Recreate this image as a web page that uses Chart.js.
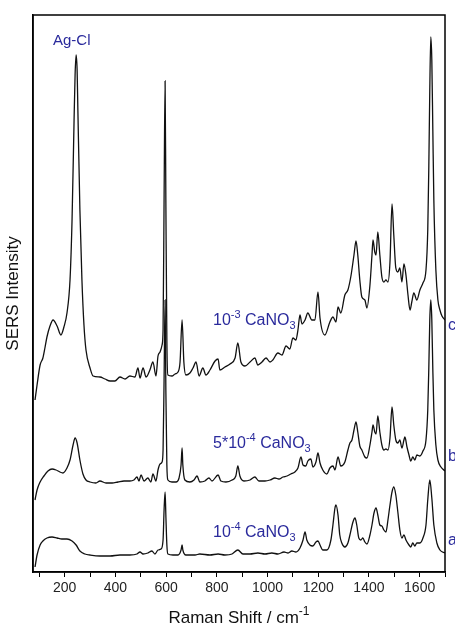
<!DOCTYPE html>
<html lang="en">
<head>
    <meta charset="UTF-8">
    <title>SERS spectra</title>
    <script src="https://cdn.jsdelivr.net/npm/chart.js"></script>
    <style>
        body { margin: 0; background: #fff; }
        canvas { display: block; }
    </style>
</head>
<body>
    <canvas id="chart" width="455" height="628"></canvas>
    <script>
        // Raman shift (cm-1) and intensity (arb. units, already offset) for each trace
        // trace c: 10^-3 CaNO3
        const shiftC = [83, 91, 103, 114, 122, 130, 142, 154, 170, 185, 197, 209, 221, 229, 237, 241, 245, 249, 252, 260, 268, 276, 284, 300, 312,
            339, 359, 379, 398, 418, 438, 457, 477, 489, 497, 509, 521, 536, 548, 560, 568, 576, 584, 588, 592, 596, 599, 603, 607,
            623, 635, 647, 655, 663, 670, 678, 694, 706, 718, 730, 745, 757, 773, 793, 805, 812, 832, 852, 872, 883, 895, 911, 931,
            950, 962, 978, 994, 1010, 1021, 1041, 1057, 1073, 1088, 1100, 1112, 1120, 1128, 1136, 1148, 1159, 1175, 1187, 1199, 1207, 1226,
            1246, 1258, 1270, 1278, 1289, 1305, 1317, 1329, 1341, 1349, 1356, 1364, 1372, 1384, 1392, 1404, 1412, 1416, 1423, 1428, 1435,
            1443, 1451, 1459, 1467, 1475, 1483, 1491, 1498, 1506, 1514, 1522, 1530, 1538, 1546, 1554, 1562, 1569, 1577, 1589, 1601,
            1613, 1625, 1632, 1636, 1640, 1644, 1648, 1652, 1656, 1664, 1672, 1680, 1688, 1700];
        const intC = [172, 187, 207, 214, 224, 235, 246, 252, 246, 237, 245, 259, 292, 352, 452, 497, 517, 502, 462, 362, 292, 247, 222, 204, 196,
            195, 193, 191, 191, 195, 193, 196, 195, 204, 194, 204, 195, 202, 210, 196, 216, 220, 227, 242, 372, 491, 372, 232, 197,
            196, 198, 200, 210, 252, 210, 197, 199, 204, 210, 196, 204, 197, 202, 211, 213, 202, 205, 208, 214, 229, 210, 206, 210,
            214, 207, 210, 214, 210, 212, 219, 217, 226, 223, 234, 232, 242, 257, 248, 252, 259, 252, 252, 280, 254, 237,
            250, 255, 250, 265, 259, 277, 282, 296, 317, 331, 317, 292, 275, 272, 264, 287, 317, 332, 320, 317, 340,
            317, 295, 290, 292, 290, 310, 368, 337, 304, 300, 304, 290, 308, 297, 277, 262, 270, 279, 272, 282,
            289, 302, 342, 402, 482, 535, 512, 442, 372, 302, 272, 262, 256, 252];

        // trace b: 5*10^-4 CaNO3
        const shiftB = [83, 91, 103, 118, 134, 150, 166, 181, 193, 209, 221, 233, 241, 249, 260, 272, 284, 300, 323, 339, 363, 387, 410, 434,
            457, 473, 485, 493, 501, 513, 528, 540, 548, 560, 568, 576, 584, 588, 592, 596, 599, 603, 607, 623, 639, 651, 659, 663,
            666, 674, 694, 710, 722, 733, 753, 769, 781, 805, 816, 836, 860, 875, 883, 891, 907, 931, 950, 966, 990, 1010, 1029,
            1045, 1061, 1077, 1092, 1108, 1120, 1132, 1140, 1151, 1159, 1171, 1179, 1191, 1199, 1207, 1218, 1234, 1246, 1258, 1266,
            1278, 1289, 1305, 1317, 1325, 1333, 1341, 1349, 1356, 1364, 1372, 1384, 1392, 1404, 1412, 1416, 1423, 1428, 1435, 1443,
            1451, 1459, 1467, 1475, 1483, 1491, 1498, 1506, 1514, 1522, 1530, 1538, 1542, 1550, 1558, 1565, 1573, 1581, 1589, 1601,
            1613, 1625, 1632, 1636, 1640, 1644, 1648, 1652, 1656, 1664, 1672, 1684, 1700];
        const intB = [72, 82, 90, 96, 101, 103, 102, 100, 99, 104, 112, 127, 134, 129, 112, 98, 92, 90, 89, 91, 89, 89, 90, 91,
            91, 92, 95, 91, 97, 91, 94, 90, 98, 91, 102, 108, 110, 122, 192, 272, 182, 107, 92, 90, 90, 94, 107, 124,
            107, 92, 90, 92, 96, 90, 91, 94, 91, 97, 91, 90, 92, 96, 106, 96, 91, 92, 95, 91, 91, 92, 94,
            93, 95, 96, 98, 100, 104, 115, 107, 106, 111, 113, 105, 110, 119, 109, 102, 98, 104, 106, 102,
            115, 106, 110, 122, 129, 132, 142, 150, 140, 126, 122, 115, 114, 127, 140, 147, 140, 138, 156, 140,
            127, 122, 123, 122, 134, 165, 147, 132, 129, 132, 124, 132, 135, 125, 117, 111, 115, 112, 117, 116,
            121, 132, 162, 202, 252, 272, 252, 202, 162, 127, 112, 105, 101];

        // trace a: 10^-4 CaNO3
        const shiftA = [83, 91, 103, 114, 130, 150, 170, 189, 209, 229, 245, 260, 280, 300, 339, 379, 418, 457, 485, 497, 509, 528,
            544, 556, 568, 580, 588, 592, 596, 599, 603, 607, 627, 647, 659, 663, 666, 678, 714, 733, 773, 805, 832, 860, 883,
            903, 931, 962, 990, 1017, 1041, 1065, 1081, 1096, 1112, 1128, 1140, 1148, 1155, 1167, 1179, 1191, 1199, 1207, 1218,
            1234, 1250, 1258, 1266, 1270, 1278, 1285, 1293, 1305, 1317, 1325, 1337, 1345, 1352, 1360, 1368, 1376, 1384, 1392,
            1404, 1412, 1420, 1428, 1435, 1443, 1451, 1459, 1467, 1475, 1483, 1491, 1498, 1506, 1514, 1522, 1530, 1538, 1546,
            1558, 1565, 1573, 1581, 1589, 1601, 1613, 1625, 1632, 1640, 1648, 1656, 1668, 1680, 1700];
        const intA = [5, 17, 27, 31, 34, 35, 34, 33, 33, 31, 27, 21, 18, 17, 16, 16, 17, 17, 18, 20, 18, 19,
            21, 18, 22, 23, 32, 62, 80, 57, 27, 18, 17, 17, 22, 27, 22, 17, 17, 18, 17, 18, 17, 18, 22,
            18, 18, 19, 18, 19, 18, 20, 19, 21, 20, 24, 32, 40, 32, 27, 26, 30, 31, 27, 22,
            22, 32, 47, 64, 67, 57, 37, 29, 25, 29, 37, 50, 54, 47, 34, 32, 34, 30, 28,
            37, 47, 59, 64, 57, 47, 46, 42, 40, 52, 67, 80, 85, 77, 60, 42, 34, 37, 32,
            27, 25, 29, 26, 29, 29, 34, 47, 72, 92, 74, 47, 29, 22, 19];

        const xTicksMajor = [200, 400, 600, 800, 1000, 1200, 1400, 1600];

        const labelBlue = "#2a2a9c";
        const fontFamily = "'Liberation Sans', Arial, sans-serif";

        function toPoints(xs, ys) {
            return xs.map((x, i) => ({ x: x, y: ys[i] }));
        }

        // draw text made of normal / superscript / subscript pieces
        function richText(ctx, x, y, parts, size, align) {
            const small = Math.round(size * 0.68);
            let width = 0;
            parts.forEach(p => {
                ctx.font = (p[1] ? small : size) + "px " + fontFamily;
                width += ctx.measureText(p[0]).width;
            });
            let cx = align === "center" ? x - width / 2 : x;
            parts.forEach(p => {
                ctx.font = (p[1] ? small : size) + "px " + fontFamily;
                const dy = p[1] === 1 ? -size * 0.45 : (p[1] === 2 ? size * 0.28 : 0);
                ctx.fillText(p[0], cx, y + dy);
                cx += ctx.measureText(p[0]).width;
            });
        }

        const annotations = {
            id: "annotations",
            afterDraw(chart) {
                const ctx = chart.ctx;
                const area = chart.chartArea;
                ctx.save();
                // frame
                ctx.strokeStyle = "#000";
                ctx.lineWidth = 1.5;
                ctx.strokeRect(area.left, area.top, area.right - area.left, area.bottom - area.top);

                ctx.textBaseline = "alphabetic";
                ctx.textAlign = "left";
                ctx.fillStyle = labelBlue;
                richText(ctx, 53, 45, [["Ag-Cl", 0]], 15);
                richText(ctx, 213, 325, [["10", 0], ["-3", 1], [" CaNO", 0], ["3", 2]], 16);
                richText(ctx, 213, 448, [["5*10", 0], ["-4", 1], [" CaNO", 0], ["3", 2]], 16);
                richText(ctx, 213, 537, [["10", 0], ["-4", 1], [" CaNO", 0], ["3", 2]], 16);
                richText(ctx, 448, 330, [["c", 0]], 16);
                richText(ctx, 448, 461, [["b", 0]], 16);
                richText(ctx, 448, 545, [["a", 0]], 16);

                // axis titles
                ctx.fillStyle = "#111";
                richText(ctx, 239, 623, [["Raman Shift / cm", 0], ["-1", 1]], 17, "center");
                ctx.translate(18, (area.top + area.bottom) / 2);
                ctx.rotate(-Math.PI / 2);
                richText(ctx, 0, 0, [["SERS Intensity", 0]], 17, "center");
                ctx.restore();
            }
        };

        function trace(xs, ys) {
            return {
                data: toPoints(xs, ys),
                borderColor: "#111",
                borderWidth: 1.3,
                pointRadius: 0,
                fill: false,
                cubicInterpolationMode: "monotone"
            };
        }

        new Chart(document.getElementById("chart"), {
            type: "line",
            data: {
                datasets: [trace(shiftA, intA), trace(shiftB, intB), trace(shiftC, intC)]
            },
            options: {
                responsive: false,
                animation: false,
                layout: { padding: { top: 15, right: 10, left: 0, bottom: 0 } },
                plugins: { legend: { display: false }, tooltip: { enabled: false } },
                scales: {
                    x: {
                        type: "linear",
                        min: 75,
                        max: 1700,
                        grid: { drawOnChartArea: false, drawTicks: true, tickLength: 5, color: "#000" },
                        border: { color: "#000", width: 1.5 },
                        ticks: {
                            stepSize: 100,
                            includeBounds: false,
                            autoSkip: false,
                            maxRotation: 0,
                            padding: 3,
                            color: "#222",
                            font: { size: 14, family: fontFamily },
                            callback: v => xTicksMajor.includes(v) ? String(v) : ""
                        },
                        afterFit: s => { s.height = 56; }
                    },
                    y: {
                        min: 0,
                        max: 557,
                        grid: { display: false },
                        border: { color: "#000", width: 1.5 },
                        ticks: { display: false },
                        afterFit: s => { s.width = 33; }
                    }
                }
            },
            plugins: [annotations]
        });
    </script>
</body>
</html>
